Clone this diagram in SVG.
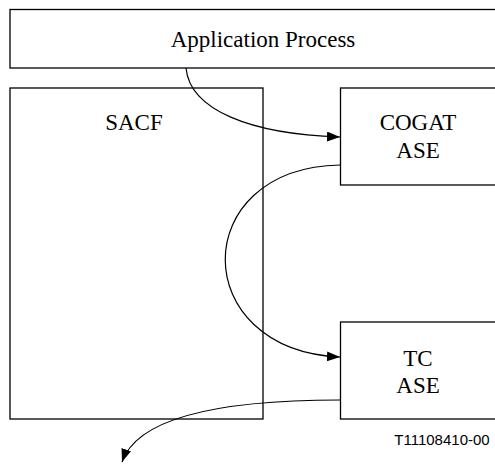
<svg xmlns="http://www.w3.org/2000/svg" width="495" height="466" viewBox="0 0 495 466">
  <defs>
    <style>
      .box { fill: #ffffff; stroke: #000000; stroke-width: 1.3; }
      .lbl { font-family: "Liberation Serif", "Times New Roman", serif; font-size: 23px; fill: #000000; text-anchor: middle; }
      .ref { font-family: "Liberation Sans", Arial, sans-serif; font-size: 15px; fill: #000000; text-anchor: middle; }
      .conn { fill: none; stroke: #000000; stroke-width: 1.2; }
    </style>
    <marker id="arrow" markerWidth="13" markerHeight="10" refX="13" refY="5" orient="auto" markerUnits="userSpaceOnUse">
      <path d="M0,0 L13,5 L0,10 Z" fill="#000000"/>
    </marker>
  </defs>
  <rect width="495" height="466" fill="#ffffff"/>

  <g id="application-process">
    <rect class="box" x="10" y="9.5" width="495" height="58.5"/>
    <text class="lbl" x="263" y="47">Application Process</text>
  </g>

  <g id="sacf">
    <rect class="box" x="10" y="88" width="253" height="331"/>
    <text class="lbl" x="134" y="130">SACF</text>
  </g>

  <g id="cogat-ase">
    <rect class="box" x="340.5" y="88" width="160" height="97"/>
    <text class="lbl" x="418" y="130">COGAT</text>
    <text class="lbl" x="418" y="158">ASE</text>
  </g>

  <g id="tc-ase">
    <rect class="box" x="340.5" y="322" width="160" height="97"/>
    <text class="lbl" x="418" y="366">TC</text>
    <text class="lbl" x="418" y="393">ASE</text>
  </g>

  <g id="connectors">
    <path class="conn" d="M186,68 C190,110 250,134 340,137" marker-end="url(#arrow)"/>
    <path class="conn" d="M340,165 C187,168 187,350 340,357" marker-end="url(#arrow)"/>
    <path class="conn" d="M340,400 C250,400 140,410 122,462" marker-end="url(#arrow)"/>
  </g>

  <text class="ref" x="442" y="445">T11108410-00</text>
</svg>
